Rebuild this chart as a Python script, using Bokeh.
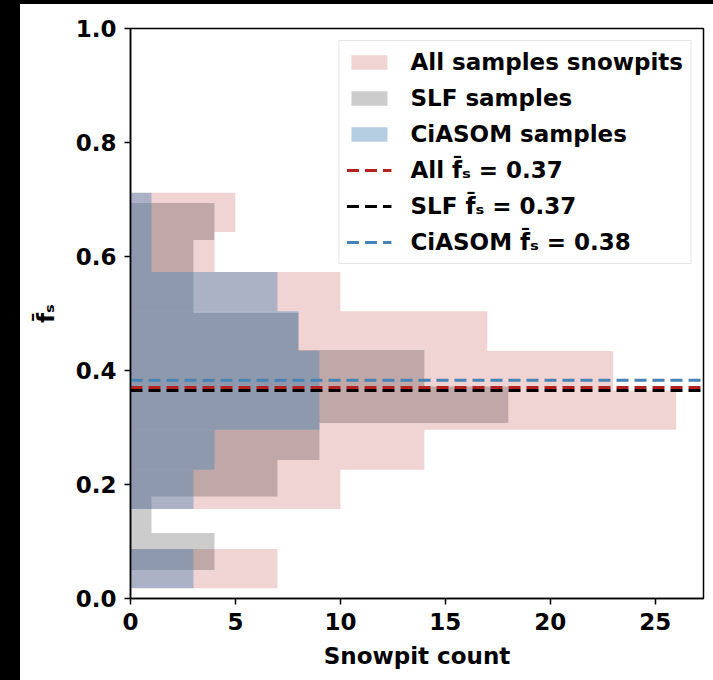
from bokeh.plotting import figure
from bokeh.models import FixedTicker, Legend, LegendItem, Range1d, Spacer, NumeralTickFormatter, ColumnDataSource
from bokeh.layouts import row, column
from bokeh.embed import file_html
from bokeh.resources import INLINE

# ---- data ----
all_edges = [0.018, 0.087, 0.157, 0.226, 0.296, 0.365, 0.434, 0.504, 0.573, 0.643, 0.712]
all_counts = [7, 0, 10, 14, 26, 23, 17, 10, 4, 5]

slf_edges = [0.050, 0.115, 0.179, 0.243, 0.308, 0.372, 0.436, 0.501, 0.565, 0.629, 0.694]
slf_counts = [4, 1, 7, 9, 18, 14, 8, 3, 3, 4]

ciasom_edges = [0.018, 0.087, 0.157, 0.226, 0.296, 0.365, 0.434, 0.504, 0.573, 0.643, 0.712]
ciasom_counts = [3, 0, 3, 4, 9, 9, 8, 7, 1, 1]

mean_values = [0.370, 0.365, 0.383]
mean_labels = ["All f\u0304\u209b = 0.37", "SLF f\u0304\u209b = 0.37", "CiASOM f\u0304\u209b = 0.38"]
hist_labels = ["All samples snowpits", "SLF samples", "CiASOM samples"]

x_ticks = [0, 5, 10, 15, 20, 25]
y_ticks = [0.0, 0.2, 0.4, 0.6, 0.8, 1.0]
x_max = 27.3

FONT = "DejaVu Sans"
FS = "23px"

p = figure(width=693, height=676, x_range=Range1d(0, x_max), y_range=Range1d(0, 1),
           output_backend="svg", toolbar_location=None,
           min_border_left=110, min_border_right=10, min_border_top=24, min_border_bottom=82)
p.grid.visible = False
p.outline_line_color = "black"
p.outline_line_width = 1.5
p.background_fill_color = "white"
p.border_fill_color = "white"


def hist_source(edges, counts):
    return ColumnDataSource(dict(left=[0] * len(counts), right=counts,
                                 bottom=edges[:-1], top=edges[1:]))


r_all = p.quad(left="left", right="right", bottom="bottom", top="top",
               source=hist_source(all_edges, all_counts),
               fill_color="firebrick", fill_alpha=0.2, line_alpha=0)
r_slf = p.quad(left="left", right="right", bottom="bottom", top="top",
               source=hist_source(slf_edges, slf_counts),
               fill_color="black", fill_alpha=0.2, line_alpha=0)
r_cia = p.quad(left="left", right="right", bottom="bottom", top="top",
               source=hist_source(ciasom_edges, ciasom_counts),
               fill_color="steelblue", fill_alpha=0.4, line_alpha=0)

line_colors = ["firebrick", "black", "steelblue"]
line_rs = []
for m, c in zip(mean_values, line_colors):
    line_rs.append(p.line(x=[0, x_max], y=[m, m], line_color=c, line_width=3,
                          line_dash="12 6"))

items = [LegendItem(label=hist_labels[0], renderers=[r_all]),
         LegendItem(label=hist_labels[1], renderers=[r_slf]),
         LegendItem(label=hist_labels[2], renderers=[r_cia])]
for lab, r in zip(mean_labels, line_rs):
    items.append(LegendItem(label=lab, renderers=[r]))

legend = Legend(items=items, location="top_right", margin=12, padding=7,
                spacing=8, label_height=28, glyph_height=18, glyph_width=45,
                label_standoff=19, label_text_font=FONT, label_text_font_style="bold",
                label_text_font_size=FS, label_text_color="black",
                border_line_color="#cccccc", border_line_width=1.5,
                background_fill_color="white", background_fill_alpha=0.8)
p.add_layout(legend)

for ax in (p.xaxis, p.yaxis):
    ax.axis_line_width = 1.5
    ax.major_tick_line_width = 1.5
    ax.major_tick_out = 6
    ax.major_tick_in = 0
    ax.minor_tick_line_color = None
    ax.major_label_text_font = FONT
    ax.major_label_text_font_style = "bold"
    ax.major_label_text_font_size = FS
    ax.major_label_text_color = "black"
    ax.axis_label_text_font = FONT
    ax.axis_label_text_font_style = "bold"
    ax.axis_label_text_font_size = FS
    ax.axis_label_text_color = "black"

p.xaxis.ticker = FixedTicker(ticks=x_ticks)
p.yaxis.ticker = FixedTicker(ticks=y_ticks)
p.yaxis.formatter = NumeralTickFormatter(format="0.0")
p.xaxis.axis_label = "Snowpit count"
p.yaxis.axis_label = "f\u0304\u209b"
p.xaxis.major_label_standoff = 8
p.yaxis.major_label_standoff = 8
p.xaxis.axis_label_standoff = 10
p.yaxis.axis_label_standoff = 14

top_strip = Spacer(width=713, height=4, styles={"background-color": "black"})
left_strip = Spacer(width=20, height=676, styles={"background-color": "black"})
layout = column(top_strip, row(left_strip, p), spacing=0)

open("out.html", "w").write(file_html(layout, INLINE))
